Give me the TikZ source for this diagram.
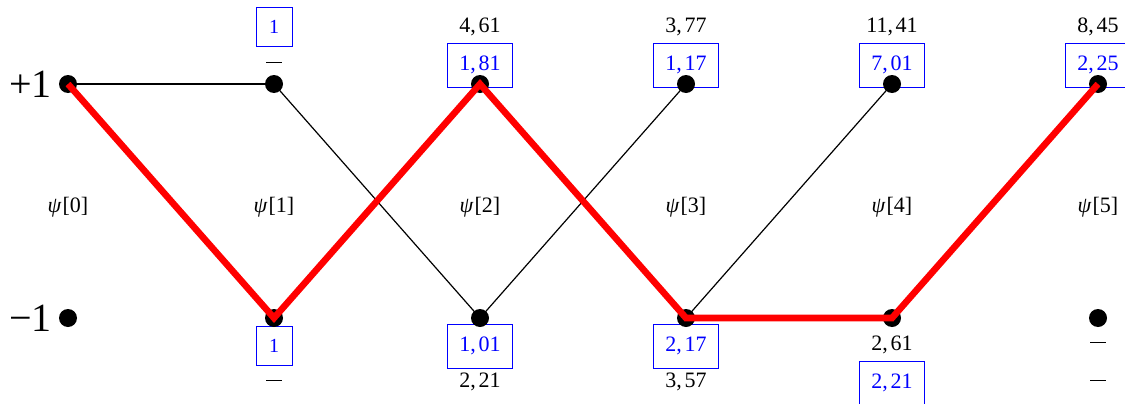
\documentclass[tikz,border=0pt]{standalone}
\usepackage{fontspec}
\setmainfont{Liberation Serif}
\newcommand{\dnum}[2]{#1,\kern1.3pt#2}
\newcommand{\ndash}{\rule[2.8pt]{8pt}{0.5pt}}
\tikzset{
  dot/.style={circle,fill=black,inner sep=0pt,minimum size=9pt},
  val/.style={font=\fontsize{11}{13}\selectfont,inner sep=0pt},
  bbox/.style={draw=blue,line width=0.5pt,text=blue,font=\fontsize{11}{13}\selectfont,inner sep=0pt,minimum width=32.5pt,minimum height=22pt},
  sbox/.style={draw=blue,line width=0.5pt,text=blue,font=\fontsize{10}{12}\selectfont,inner sep=0pt,minimum width=18pt,minimum height=19.5pt},
  psilab/.style={font=\fontsize{11}{13}\selectfont,inner sep=0pt},
  rowlab/.style={font=\fontsize{20}{23}\selectfont,inner sep=0pt,anchor=east},
  thin/.style={line width=0.6pt,black},
  best/.style={line width=3.3pt,red,line join=miter}
}
\begin{document}
\begin{tikzpicture}[x=1pt,y=1pt]
\useasboundingbox (0,0) rectangle (562.5,201.5);
% top labels
\node[sbox] (tb1) at (137,188) {1};
\node[val] (td1) at (137,169) {\ndash};
\node[val] (tv2) at (240,188) {\dnum{4}{61}};
\node[bbox] (tb2) at (240,169) {\dnum{1}{81}};
\node[val] (tv3) at (343,188) {\dnum{3}{77}};
\node[bbox] (tb3) at (343,169) {\dnum{1}{17}};
\node[val] (tv4) at (446,188) {\dnum{11}{41}};
\node[bbox] (tb4) at (446,169) {\dnum{7}{01}};
\node[val] (tv5) at (549,188) {\dnum{8}{45}};
\node[bbox] (tb5) at (549,169) {\dnum{2}{25}};
% bottom labels
\node[sbox] (bb1) at (137,28.5) {1};
\node[val] (bd1) at (137,10) {\ndash};
\node[bbox] (bb2) at (240,28.5) {\dnum{1}{01}};
\node[val] (bv2) at (240,10.5) {\dnum{2}{21}};
\node[bbox] (bb3) at (343,28.5) {\dnum{2}{17}};
\node[val] (bv3) at (343,10.5) {\dnum{3}{57}};
\node[val] (bv4) at (446,29) {\dnum{2}{61}};
\node[bbox] (bb4) at (446,10) {\dnum{2}{21}};
\node[val] (bd5a) at (549,29) {\ndash};
\node[val] (bd5b) at (549,10) {\ndash};
% dots
\foreach \i/\x in {0/34,1/137,2/240,3/343,4/446,5/549}{
  \node[dot] (t\i) at (\x,159.5) {};
  \node[dot] (b\i) at (\x,42.5) {};
  \node[psilab] (p\i) at (\x,98) {\textit{ψ}\kern0.5pt[\i]};
}
% row labels
\node[rowlab] (plus) at (26,159.5) {+1};
\node[rowlab] (minus) at (26,42.5) {−1};
% black connectors
\draw[thin] (t0.center) -- (t1.center);
\draw[thin] (t1.center) -- (b2.center);
\draw[thin] (b2.center) -- (t3.center);
\draw[thin] (b3.center) -- (t4.center);
% red best path
\draw[best] (t0.center) -- (b1.center) -- (t2.center) -- (b3.center) -- (b4.center) -- (t5.center);
\end{tikzpicture}
\end{document}
